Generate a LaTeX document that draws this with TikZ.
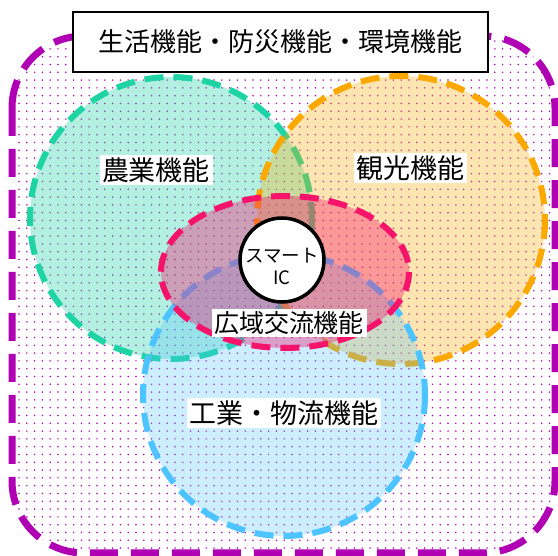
\documentclass[tikz,border=0pt]{standalone}
\usepackage{fontspec}
\setmainfont{Noto Sans CJK JP}
\definecolor{mag}{RGB}{176,0,180}
\definecolor{grn}{RGB}{30,212,164}
\definecolor{org}{RGB}{251,169,0}
\definecolor{blu}{RGB}{77,196,255}
\definecolor{rd}{RGB}{245,19,108}
\begin{document}
\begin{tikzpicture}[x=1pt,y=-1pt,
  lbl/.style={fill=white, inner sep=2.5pt, font=\fontsize{27}{30}\selectfont},
  ring/.style={line width=6pt, dash pattern=on 19pt off 10pt},
  outerring/.style={mag, line width=7pt, dash pattern=on 28pt off 13pt}]
\useasboundingbox (0,0) rectangle (558,556);
\fill[white] (0,0) rectangle (558,556);
% dot pattern
\begin{scope}
  \clip[rounded corners=72pt] (12,36) rectangle (555,553);
  \foreach \i in {0,...,71} {
    \foreach \j in {0,...,67} {
      \fill[mag] (11.2+\i*7.8, 33.3+\j*7.8) circle (0.85pt);
    }
  }
\end{scope}
\draw[outerring, rounded corners=72pt] (12,36) rectangle (555,553);
% circles
\draw[ring, grn, fill=grn, fill opacity=0.33] (171,218) circle (141);
\draw[ring, org, fill=org, fill opacity=0.3] (401,220) circle (144);
\draw[ring, blu, fill=blu, fill opacity=0.28] (284,395) circle (141);
\draw[ring, rd, fill=rd, fill opacity=0.36] (285,272) ellipse (124 and 76);
% smart IC
\node[circle, draw=black, line width=3.5pt, fill=white, minimum size=84pt, inner sep=0pt] (ic) at (282,260) {};
\node[align=center, font=\fontsize{18.5}{22}\selectfont, inner sep=0pt] (ictext) at (282,266) {スマート\\IC};
% labels
\node[draw=black, line width=2pt, fill=white, minimum width=415pt, minimum height=60pt, inner sep=0pt,
      font=\fontsize{26}{30}\selectfont] (top) at (280.5,42) {生活機能・防災機能・環境機能};
\node[lbl] (agri) at (156,170) {農業機能};
\node[lbl] (tour) at (410,168) {観光機能};
\node[lbl, font=\fontsize{25}{28}\selectfont] (koryu) at (289,323) {広域交流機能};
\node[lbl] (ind) at (284,413) {工業・物流機能};
\end{tikzpicture}
\end{document}
